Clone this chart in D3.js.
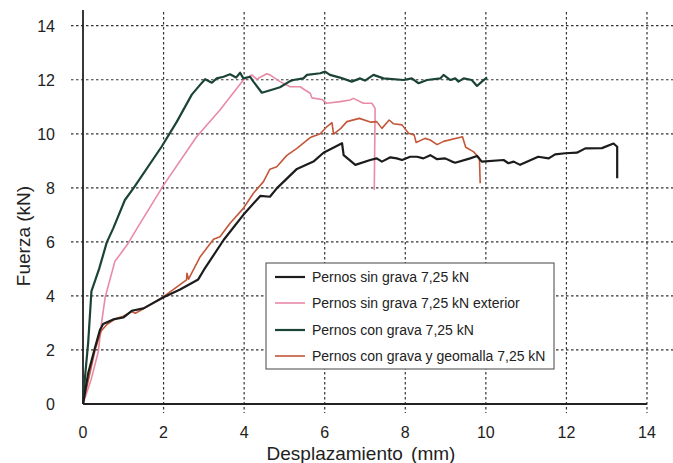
<!DOCTYPE html>
<html lang="es">
<head>
<meta charset="UTF-8">
<title>Fuerza vs desplazamiento</title>
<script src="https://d3js.org/d3.v7.min.js"></script>
<style>
  body { margin: 0; background: #fff; }
  text { font-family: "Liberation Sans", Arial, sans-serif; fill: #222; }
</style>
</head>
<body>
<div class="canvas"></div>
<script>
  // datos: [desplazamiento mm, fuerza kN]
  const sinGrava = [[0,0],[0.13,1.15],[0.3,2.1],[0.42,2.74],[0.5,2.96],[0.75,3.13],[1.0,3.2],[1.21,3.45],[1.5,3.54],[2.0,3.95],[2.41,4.24],[2.86,4.61],[3.0,4.96],[3.49,6.07],[3.98,7.0],[4.4,7.7],[4.64,7.67],[4.81,7.98],[5.31,8.7],[5.72,8.97],[5.97,9.3],[6.43,9.65],[6.47,9.21],[6.76,8.85],[7.13,9.03],[7.29,9.09],[7.42,8.97],[7.63,9.13],[7.79,9.09],[7.92,9.03],[8.12,9.15],[8.29,9.15],[8.45,9.09],[8.62,9.21],[8.79,9.06],[8.99,9.09],[9.16,8.97],[9.24,8.93],[9.61,9.09],[9.78,9.18],[9.9,8.97],[10.44,9.03],[10.56,8.91],[10.69,8.97],[10.85,8.85],[11.3,9.15],[11.56,9.09],[11.72,9.24],[11.97,9.28],[12.26,9.3],[12.47,9.46],[12.88,9.47],[13.17,9.64],[13.26,9.52],[13.26,8.35]];
  const sinGravaExt = [[0,0],[0.2,0.9],[0.38,1.94],[0.46,2.99],[0.55,3.95],[0.79,5.27],[1.1,5.9],[1.33,6.47],[2.0,8.1],[2.82,9.89],[3.4,10.88],[3.98,11.99],[4.19,12.18],[4.31,12.02],[4.56,12.22],[4.64,12.18],[4.89,11.93],[5.14,11.74],[5.39,11.74],[5.51,11.62],[5.64,11.5],[5.68,11.33],[5.93,11.27],[6.05,11.13],[6.38,11.19],[6.63,11.25],[6.71,11.31],[6.96,11.13],[7.17,11.13],[7.25,10.94],[7.25,10.76],[7.23,7.92]];
  const conGrava = [[0,0],[0.05,1.0],[0.13,2.3],[0.21,4.18],[0.4,5.0],[0.59,5.98],[0.75,6.5],[1.04,7.55],[1.25,7.98],[1.95,9.52],[2.33,10.45],[2.7,11.45],[2.9,11.8],[3.03,12.02],[3.2,11.89],[3.32,12.05],[3.49,12.11],[3.65,12.2],[3.8,12.08],[3.9,12.26],[3.98,12.05],[4.15,12.11],[4.23,11.93],[4.44,11.52],[4.73,11.65],[4.89,11.72],[5.14,11.95],[5.22,11.99],[5.47,12.05],[5.56,12.18],[5.89,12.24],[6.01,12.3],[6.13,12.18],[6.38,12.08],[6.67,11.93],[6.88,12.05],[7.0,11.97],[7.21,12.18],[7.46,12.05],[7.96,11.99],[8.16,12.05],[8.33,11.87],[8.54,11.99],[8.87,12.05],[8.95,12.18],[9.12,11.99],[9.24,12.05],[9.32,11.93],[9.45,12.05],[9.65,11.99],[9.78,11.77],[9.9,11.93],[10.03,12.09]];
  const conGeomalla = [[0,0],[0.15,1.0],[0.3,2.0],[0.45,2.7],[0.6,2.95],[0.8,3.15],[1.0,3.25],[1.2,3.42],[1.3,3.36],[1.5,3.52],[2.0,3.97],[2.57,4.59],[2.58,4.84],[2.62,4.62],[2.91,5.45],[3.24,6.1],[3.4,6.19],[3.65,6.69],[3.98,7.24],[4.23,7.8],[4.48,8.23],[4.64,8.69],[4.81,8.78],[5.06,9.2],[5.31,9.46],[5.47,9.65],[5.64,9.86],[5.89,10.0],[6.05,10.26],[6.18,10.41],[6.22,9.99],[6.4,10.2],[6.55,10.45],[6.86,10.57],[7.15,10.43],[7.29,10.45],[7.42,10.2],[7.6,10.51],[7.71,10.37],[7.92,10.33],[8.08,10.02],[8.22,9.96],[8.27,9.68],[8.49,9.83],[8.62,9.77],[8.79,9.6],[8.95,9.72],[9.42,9.89],[9.5,9.5],[9.69,9.34],[9.84,9.1],[9.86,8.17]];

  const xTicks = [0, 2, 4, 6, 8, 10, 12, 14];
  const yTicks = [0, 2, 4, 6, 8, 10, 12, 14];
  const names = ['Pernos sin grava 7,25 kN', 'Pernos sin grava 7,25 kN exterior',
                 'Pernos con grava 7,25 kN', 'Pernos con grava y geomalla 7,25 kN'];

  const series = [
    { name: names[0], data: sinGrava, color: '#1c1c1c', w: 2.2 },
    { name: names[1], data: sinGravaExt, color: '#e98aa6', w: 1.6 },
    { name: names[2], data: conGrava, color: '#1c4436', w: 2.2 },
    { name: names[3], data: conGeomalla, color: '#c4573a', w: 1.6 }
  ];

  const W = 673, H = 463;
  const svg = d3.select('.canvas').append('svg')
    .attr('width', W).attr('height', H);

  const x = d3.scaleLinear().domain([0, 14]).range([83, 647]);
  const y = d3.scaleLinear().domain([0, 14]).range([404, 25.7]);

  // rejilla punteada
  const grid = svg.append('g')
    .attr('stroke', '#333').attr('stroke-width', 1.2)
    .attr('stroke-dasharray', '2.5,2.5');

  grid.selectAll('.hg').data(yTicks.filter(d => d > 0)).enter()
    .append('line')
    .attr('x1', 71).attr('x2', W)
    .attr('y1', d => y(d)).attr('y2', d => y(d));

  grid.selectAll('.vg').data(xTicks.filter(d => d > 0)).enter()
    .append('line')
    .attr('x1', d => x(d)).attr('x2', d => x(d))
    .attr('y1', 12).attr('y2', 413);

  // ejes
  svg.append('line')
    .attr('x1', x(0)).attr('x2', x(0)).attr('y1', 10).attr('y2', y(0))
    .attr('stroke', '#222').attr('stroke-width', 1.8);
  svg.append('line')
    .attr('x1', x(0)).attr('x2', x(14)).attr('y1', y(0)).attr('y2', y(0))
    .attr('stroke', '#222').attr('stroke-width', 1.8);

  svg.selectAll('.yl').data(yTicks).enter()
    .append('text')
    .attr('x', 55).attr('y', d => y(d) + 6)
    .attr('text-anchor', 'end')
    .style('font-size', '16px')
    .text(d => d);

  svg.selectAll('.xl').data(xTicks).enter()
    .append('text')
    .attr('x', d => x(d)).attr('y', 438)
    .attr('text-anchor', 'middle')
    .style('font-size', '16px')
    .text(d => d);

  svg.append('text')
    .attr('x', 361).attr('y', 460)
    .attr('text-anchor', 'middle')
    .style('font-size', '19px')
    .style('word-spacing', '3px')
    .text('Desplazamiento (mm)');

  svg.append('text')
    .attr('transform', 'translate(30,236) rotate(-90)')
    .attr('text-anchor', 'middle')
    .style('font-size', '19px')
    .text('Fuerza (kN)');

  // curvas
  const line = d3.line().x(d => x(d[0])).y(d => y(d[1]));
  const drawOrder = [1, 2, 3, 0];
  svg.selectAll('.serie').data(drawOrder.map(i => series[i])).enter()
    .append('path')
    .attr('d', d => line(d.data))
    .attr('fill', 'none')
    .attr('stroke', d => d.color)
    .attr('stroke-width', d => d.w)
    .attr('stroke-linejoin', 'round');

  // leyenda
  const leg = svg.append('g');
  leg.append('rect')
    .attr('x', 266).attr('y', 263).attr('width', 288).attr('height', 106)
    .attr('fill', '#fff').attr('stroke', '#444').attr('stroke-width', 1);

  const legY = [277, 303, 330, 356];
  const items = leg.selectAll('.it').data(series).enter()
    .append('g')
    .attr('transform', (d, i) => `translate(0,${legY[i]})`);
  items.append('line')
    .attr('x1', 275).attr('x2', 305)
    .attr('stroke', d => d.color)
    .attr('stroke-width', d => d.w);
  items.append('text')
    .attr('x', 312).attr('y', 5)
    .style('font-size', '14px')
    .text(d => d.name);
</script>
</body>
</html>
